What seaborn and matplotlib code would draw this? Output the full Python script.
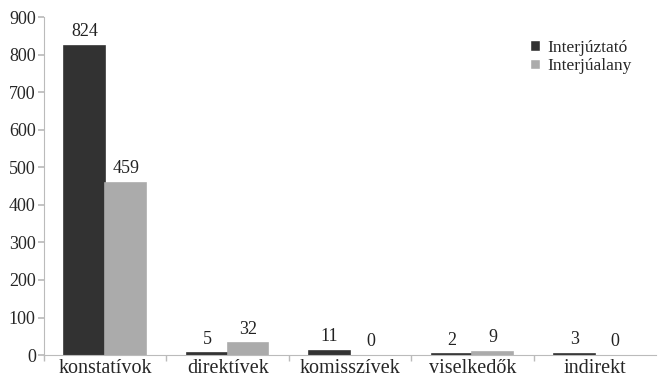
import matplotlib
matplotlib.use("Agg")
import matplotlib.pyplot as plt
import seaborn as sns
import pandas as pd
import numpy as np

categories = ["konstatívok", "direktívek", "komisszívek", "viselkedők", "indirekt"]
interjuztato = [824, 5, 11, 2, 3]
interjualany = [459, 32, 0, 9, 0]
series_names = ["Interjúztató", "Interjúalany"]
y_ticks = [0, 100, 200, 300, 400, 500, 600, 700, 800, 900]

df = pd.DataFrame({
    "kategoria": categories * 2,
    "ertek": interjuztato + interjualany,
    "csoport": [series_names[0]] * len(categories) + [series_names[1]] * len(categories),
})

sns.set_theme(style="white")
plt.rcParams["font.family"] = ["Liberation Serif", "DejaVu Serif"]

fig = plt.figure(figsize=(6.58, 3.81), dpi=100)
ax = fig.add_axes([0.067, 0.068, 0.93, 0.887])

colors = {series_names[0]: "#323232", series_names[1]: "#ababab"}
sns.barplot(data=df, x="kategoria", y="ertek", hue="csoport", palette=colors,
            width=0.667, saturation=1, ax=ax, order=categories, hue_order=series_names)

# outline each bar in its own colour so the tiny values stay visible
for container, name in zip(ax.containers, series_names):
    for bar in container:
        bar.set_edgecolor(colors[name])
        bar.set_linewidth(1.2)
        if bar.get_height() == 0:
            bar.set_visible(False)
    ax.bar_label(container, fmt="%d", padding=4, fontsize=13, color="#222222")

ax.set_ylim(0, 900)
ax.set_xlim(-0.5, len(categories) - 0.5)
ax.set_yticks(y_ticks)
ax.set_yticklabels([str(t) for t in y_ticks], fontsize=13)
ax.set_xticks(range(len(categories)))
ax.set_xticklabels(categories, fontsize=14.5)
ax.set_xticks(np.arange(len(categories)) - 0.5, minor=True)
ax.tick_params(axis="x", which="major", length=0, pad=3)
ax.tick_params(axis="x", which="minor", length=4, color="#bbbbbb", bottom=True)
ax.tick_params(axis="y", length=4, color="#bbbbbb", left=True, pad=2)
ax.set_xlabel("")
ax.set_ylabel("")

for side in ["top", "right"]:
    ax.spines[side].set_visible(False)
for side in ["left", "bottom"]:
    ax.spines[side].set_color("#bbbbbb")
    ax.spines[side].set_linewidth(0.8)

ax.legend(loc="upper right", bbox_to_anchor=(0.985, 0.98), frameon=False,
          fontsize=12.5, handlelength=0.55, handleheight=0.55, handletextpad=0.4,
          labelspacing=0.15)

fig.savefig("out.png", dpi=100)
